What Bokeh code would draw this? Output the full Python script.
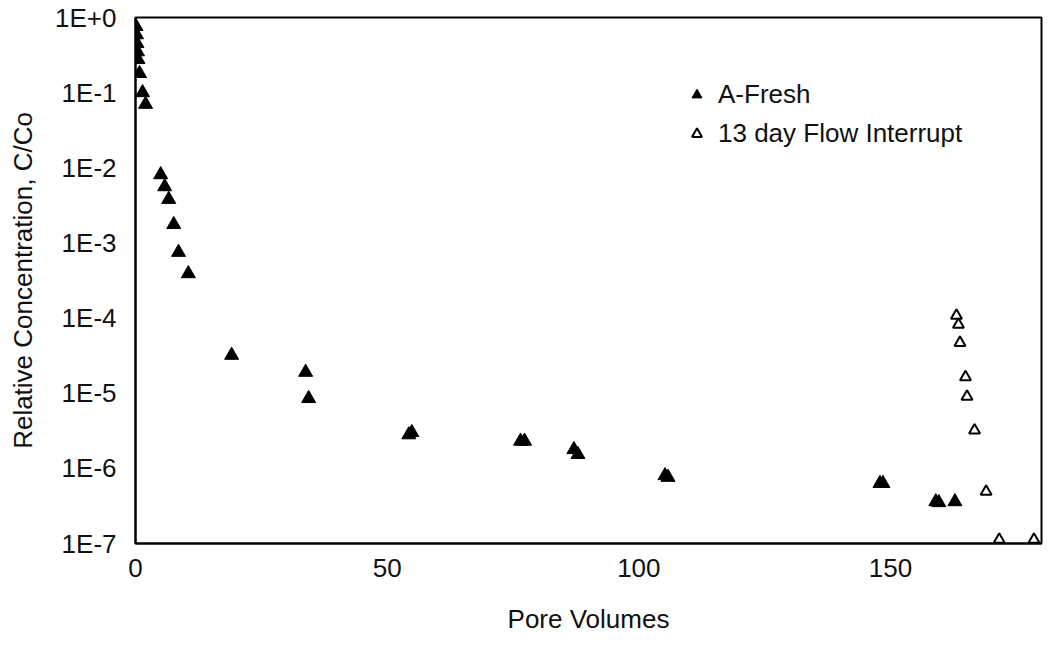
from bokeh.plotting import figure
from bokeh.models import Range1d, FixedTicker, CustomJSTickFormatter, Legend, LegendItem
from bokeh.embed import file_html
from bokeh.resources import INLINE

# A-Fresh (filled triangles)
fresh_pv = [0.1, 0.2, 0.3, 0.4, 0.5, 0.8, 1.4, 2.0, 5.0, 5.8, 6.6, 7.6, 8.55, 10.5,
            19.1, 33.8, 34.4, 54.3, 54.9, 76.5, 77.3, 87.1, 87.9, 105.2, 105.8,
            147.9, 148.5, 159.0, 159.6, 162.8]
fresh_c = [0.76, 0.59, 0.45, 0.35, 0.276, 0.18, 0.10, 0.070, 0.0081, 0.0056, 0.0038,
           0.00176, 7.5e-4, 3.9e-4, 3.2e-5, 1.9e-5, 8.5e-6, 2.8e-6, 3.0e-6, 2.3e-6,
           2.3e-6, 1.78e-6, 1.53e-6, 8.0e-7, 7.6e-7, 6.3e-7, 6.3e-7, 3.6e-7, 3.5e-7, 3.6e-7]

# 13 day Flow Interrupt (open triangles)
interrupt_pv = [163.1, 163.5, 163.8, 164.9, 165.2, 166.7, 169.0, 171.6, 178.5]
interrupt_c = [1.08e-4, 8.2e-5, 4.7e-5, 1.64e-5, 9.0e-6, 3.2e-6, 4.9e-7, 1.13e-7, 1.13e-7]

x_ticks = [0, 50, 100, 150]
y_ticks = [1e-7, 1e-6, 1e-5, 1e-4, 1e-3, 1e-2, 1e-1, 1.0]

FONT = "Liberation Sans"
FS = "26px"
TXT = "#111111"

p = figure(width=1045, height=640, output_backend="svg", toolbar_location=None,
           y_axis_type="log", x_range=Range1d(0, 180), y_range=Range1d(1e-7, 1.0),
           min_border_left=135, min_border_right=4, min_border_top=17, min_border_bottom=97)

p.xgrid.visible = False
p.ygrid.visible = False
p.outline_line_color = "black"
p.outline_line_width = 2
p.background_fill_color = "white"
p.border_fill_color = "white"

r1 = p.scatter(fresh_pv, fresh_c, marker="triangle", size=14, fill_color="black",
               line_color="black", line_width=1)
r2 = p.scatter(interrupt_pv, interrupt_c, marker="triangle", size=11, fill_color=None,
               line_color="black", line_width=2)

for ax in (p.xaxis[0], p.yaxis[0]):
    ax.axis_line_color = "black"
    ax.axis_line_width = 2
    ax.major_tick_line_color = None
    ax.minor_tick_line_color = None
    ax.major_tick_out = 0
    ax.major_tick_in = 0
    ax.major_label_text_font = FONT
    ax.major_label_text_font_size = FS
    ax.major_label_text_color = TXT
    ax.axis_label_text_font = FONT
    ax.axis_label_text_font_size = FS
    ax.axis_label_text_font_style = "normal"
    ax.axis_label_text_color = TXT

p.xaxis.ticker = FixedTicker(ticks=x_ticks, minor_ticks=[])
p.xaxis.axis_label = "Pore Volumes"
p.xaxis.major_label_standoff = 15
p.xaxis.axis_label_standoff = 24

p.yaxis.ticker = FixedTicker(ticks=y_ticks, minor_ticks=[])
p.yaxis.formatter = CustomJSTickFormatter(code="""
const e = Math.round(Math.log10(tick));
return "1E" + (e >= 0 ? "+" + e : String(e));
""")
p.yaxis.axis_label = "Relative Concentration, C/Co"
p.yaxis.major_label_standoff = 19
p.yaxis.axis_label_standoff = 14

legend = Legend(items=[LegendItem(label="A-Fresh", renderers=[r1]),
                       LegendItem(label="13 day Flow Interrupt", renderers=[r2])],
                location=(549, 394))
legend.border_line_color = None
legend.background_fill_alpha = 0
legend.padding = 0
legend.margin = 0
legend.spacing = 8
legend.glyph_width = 25
legend.glyph_height = 29
legend.label_height = 29
legend.label_standoff = 9
legend.label_text_font = FONT
legend.label_text_font_size = FS
legend.label_text_color = TXT
p.add_layout(legend, "center")

open("out.html", "w").write(file_html(p, INLINE))
